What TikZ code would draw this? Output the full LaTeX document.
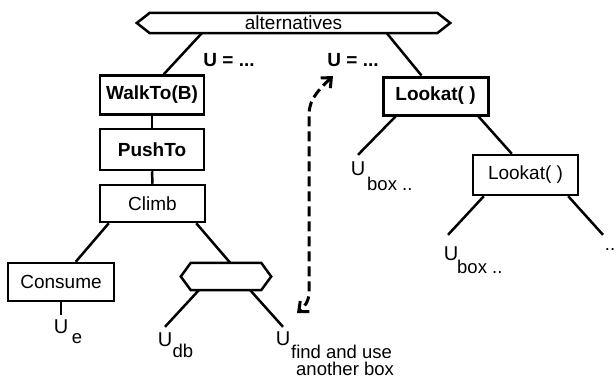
\documentclass[tikz,border=0pt]{standalone}
\usepackage{fontspec}
\setmainfont{Liberation Sans}
\usetikzlibrary{arrows.meta,calc}
\begin{document}
\begin{tikzpicture}[x=1pt,y=-1pt,
  box/.style={draw,line width=2.5pt,inner sep=0pt,minimum width=104pt,minimum height=39pt,font=\fontsize{19}{21}\selectfont},
  lbl/.style={inner sep=0pt,font=\fontsize{19}{21}\selectfont},
  ulbl/.style={inner sep=0pt,font=\fontsize{20}{22}\selectfont},
  sub/.style={inner sep=0pt,font=\fontsize{18.5}{20}\selectfont},
  edge/.style={line width=2.5pt},
  hex/.style={draw,line width=2.5pt,line join=miter},
  jump/.style={line width=3pt,dash pattern=on 10pt off 5pt,{Straight Barb[length=8pt,width=14pt]}-{Straight Barb[length=8pt,width=14pt]}}]
\useasboundingbox (0,0) rectangle (616,381);

% root: the alternatives hexagon
\node[lbl,minimum width=287pt,minimum height=20pt] (alt) at (293.5,23) {alternatives};
\draw[hex] (alt.north west) -- (alt.north east) -- ($(alt.east)+(13,0)$)
  -- (alt.south east) -- (alt.south west) -- ($(alt.west)+(-13,0)$) -- cycle;
\node[lbl,font=\fontsize{19}{21}\selectfont\bfseries] (uL) at (229,60) {U = ...};
\node[lbl,font=\fontsize{19}{21}\selectfont\bfseries] (uR) at (353,60) {U = ...};

% left branch: action sequence
\node[box] (walk) at (152,95) {\bfseries WalkTo(B)};
\node[box,minimum height=41pt] (push) at (152,149.5) {\bfseries PushTo};
\node[box,minimum width=105pt,minimum height=37pt] (climb) at (152.5,203.5) {Climb};
\node[box,minimum width=106pt,minimum height=38pt] (consume) at (61,282) {Consume};

% small alternatives hexagon under Climb
\node[inner sep=0pt,minimum width=70pt,minimum height=27pt] (or) at (226,276.5) {};
\draw[hex] (or.north west) -- (or.north east) -- ($(or.east)+(10,0)$)
  -- (or.south east) -- (or.south west) -- ($(or.west)+(-10,0)$) -- cycle;

% right branch
\node[box,line width=3pt,minimum width=105pt,minimum height=38pt] (look1) at (435.5,96) {\bfseries Lookat( )};
\node[box,minimum width=105pt,minimum height=40pt] (look2) at (525.5,175) {Lookat( )};

% utility labels
\node[ulbl] (uE) at (61,327) {U};
\node[sub] (uEs) at (77,339) {e};
\node[ulbl] (uDb) at (165,340) {U};
\node[sub] (uDbs) at (183,351) {db};
\node[ulbl] (uF) at (283,339) {U};
\node[sub,anchor=west] (uFs1) at (291,352) {find and use};
\node[sub,anchor=west] (uFs2) at (296,369) {another box};
\node[ulbl] (uB1) at (358,169) {U};
\node[sub,anchor=west] (uB1s) at (367,184) {box ..};
\node[ulbl] (uB2) at (451,254) {U};
\node[sub,anchor=west] (uB2s) at (457,267) {box ..};
\node[sub] (dots) at (610,250) {..};

% tree connectors
\draw[edge] ($(alt.south west)+(52,0)$) -- ($(walk.north west)+(65,0)$);
\draw[edge] ($(alt.south west)+(237,0)$) -- ($(look1.north west)+(40,0)$);
\draw[edge] (walk.south) -- (push.north);
\draw[edge] (push.south) -- (climb.north);
\draw[edge] ($(climb.south west)+(10,0)$) -- ($(consume.north west)+(69,0)$);
\draw[edge] ($(climb.south east)+(-10,0)$) -- ($(or.north east)+(-31,0)$);
\draw[edge] (consume.south) -- ($(uE.north)+(0,-5)$);
\draw[edge] ($(or.south west)+(8,0)$) -- ($(uDb.north)+(0,-6)$);
\draw[edge] ($(or.south east)+(-11,0)$) -- ($(uF.north)+(0,-5)$);
\draw[edge] ($(look1.south west)+(14,0)$) -- ($(uB1.north)+(0,-7)$);
\draw[edge] ($(look1.south east)+(-11,0)$) -- ($(look2.north west)+(40,0)$);
\draw[edge] ($(look2.south west)+(12,0)$) -- ($(uB2.north)+(-3,-12)$);
\draw[edge] ($(look2.south east)+(-11,0)$) -- ($(dots.north)+(-7,-14)$);

% dashed jump between the two alternatives
\coordinate (jTop) at (333,76);
\coordinate (jBot) at (297,313);
\draw[jump] (jTop) .. controls (314,94) and (309,102) .. (309,116)
  -- (309,292) .. controls (309,302) and (304,307) .. (jBot);
\end{tikzpicture}
\end{document}
